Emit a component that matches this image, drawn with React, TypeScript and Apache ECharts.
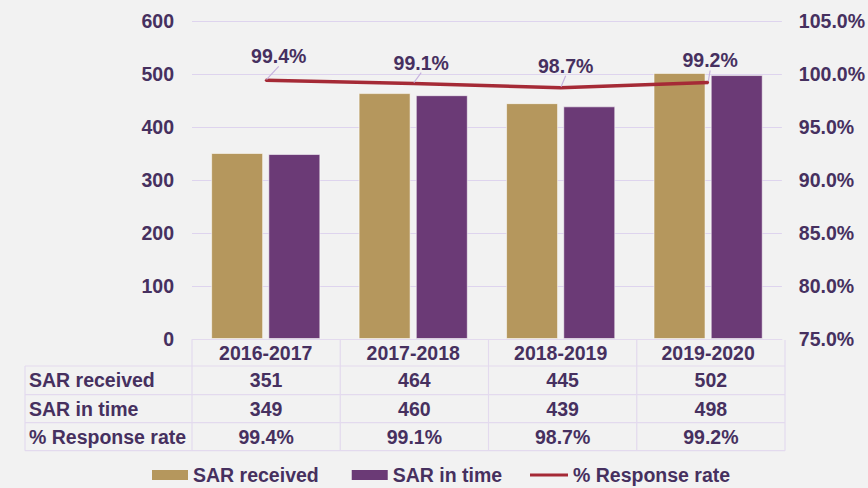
import React, { useEffect, useRef } from "react";
import * as echarts from "echarts";

const categories = ["2016-2017", "2017-2018", "2018-2019", "2019-2020"];
const sarReceived = [351, 464, 445, 502];
const sarInTime = [349, 460, 439, 498];
const responseRate = [99.4, 99.1, 98.7, 99.2];
const seriesNames = ["SAR received", "SAR in time", "% Response rate"];
const rateLabels = responseRate.map((v) => `${v.toFixed(1)}%`);

// layout constants
const W = 868;
const H = 488;
const GRID_L = 192;
const GRID_R = 785;
const GRID_T = 21;
const GRID_B = 339;
const FONT = "'Liberation Sans', Arial, sans-serif";
const FS = 19.5;
const TXT = "#46305f";
const BORDER = "#e3daee";
const GRIDLINE = "#ded4ee";
const labelOffsets = [
  [13, -24],
  [8, -21],
  [5, -22],
  [2, -22],
];

function buildTable() {
  const els: any[] = [];
  const colW = (GRID_R - GRID_L) / categories.length;
  const rowsY = [340, 366, 394.7, 422.7, 450.7];
  const tableLeft = 25;
  const line = (x1: number, y1: number, x2: number, y2: number) => ({
    type: "line",
    silent: true,
    shape: { x1, y1, x2, y2 },
    style: { stroke: BORDER, lineWidth: 1.2 },
  });
  for (let i = 1; i < rowsY.length; i++) {
    els.push(line(tableLeft, rowsY[i], GRID_R, rowsY[i]));
  }
  els.push(line(tableLeft, rowsY[1], tableLeft, rowsY[4]));
  for (let c = 0; c <= categories.length; c++) {
    const x = GRID_L + c * colW;
    els.push(line(x, rowsY[0], x, rowsY[4]));
  }
  const rows: { name: string; values: string[] }[] = [
    { name: seriesNames[0], values: sarReceived.map(String) },
    { name: seriesNames[1], values: sarInTime.map(String) },
    { name: seriesNames[2], values: rateLabels },
  ];
  const textEl = (text: string, x: number, y: number, align: string) => ({
    type: "text",
    silent: true,
    x,
    y,
    style: {
      text,
      fill: TXT,
      fontSize: FS,
      fontWeight: "bold",
      fontFamily: FONT,
      align,
      verticalAlign: "middle",
    },
  });
  rows.forEach((r, ri) => {
    const cy = (rowsY[ri + 1] + rowsY[ri + 2]) / 2;
    els.push(textEl(r.name, tableLeft + 4, cy, "left"));
    r.values.forEach((v, ci) => {
      els.push(textEl(v, GRID_L + (ci + 0.5) * colW, cy, "center"));
    });
  });
  return els;
}

export default function App() {
  const ref = useRef<HTMLDivElement>(null);
  useEffect(() => {
    if (!ref.current) return;
    const chart = echarts.init(ref.current, null, { renderer: "svg" });
    const axisLabelStyle = {
      color: TXT,
      fontSize: FS,
      fontWeight: "bold" as const,
      fontFamily: FONT,
    };
    chart.setOption({
      animation: false,
      backgroundColor: "#f2f2f2",
      textStyle: { fontFamily: FONT },
      grid: {
        left: GRID_L,
        right: W - GRID_R,
        top: GRID_T,
        bottom: H - GRID_B,
        containLabel: false,
      },
      legend: [
        {
          left: 152,
          top: 465,
          padding: 0,
          itemWidth: 36,
          itemHeight: 10,
          itemGap: 33,
          textStyle: { ...axisLabelStyle },
          itemStyle: { borderWidth: 0 },
          icon: "rect",
          data: [seriesNames[0], seriesNames[1]],
        },
        {
          left: 530,
          top: 465,
          padding: 0,
          itemWidth: 38,
          itemHeight: 3,
          textStyle: { ...axisLabelStyle },
          icon: "rect",
          data: [seriesNames[2]],
        },
      ],
      xAxis: {
        type: "category",
        data: categories,
        axisLine: { show: true, lineStyle: { color: BORDER, width: 1.2 } },
        axisTick: { show: false },
        axisLabel: { ...axisLabelStyle, margin: 14, verticalAlign: "middle" },
      },
      yAxis: [
        {
          type: "value",
          min: 0,
          max: 600,
          interval: 100,
          axisLine: { show: false },
          axisTick: { show: false },
          axisLabel: { ...axisLabelStyle, margin: 18 },
          splitLine: { show: true, lineStyle: { color: GRIDLINE, width: 1 } },
        },
        {
          type: "value",
          min: 75,
          max: 105,
          interval: 5,
          position: "right",
          axisLine: { show: false },
          axisTick: { show: false },
          axisLabel: {
            ...axisLabelStyle,
            margin: 17,
            formatter: (v: number) => `${v.toFixed(1)}%`,
          },
          splitLine: { show: false },
        },
      ],
      series: [
        {
          name: seriesNames[0],
          type: "bar",
          data: sarReceived,
          barWidth: 52,
          barGap: "10%",
          itemStyle: {
            color: "#b5975d",
            borderColor: "rgba(255,255,255,0.55)",
            borderWidth: 1,
          },
        },
        {
          name: seriesNames[1],
          type: "bar",
          data: sarInTime,
          barWidth: 52,
          barGap: "10%",
          itemStyle: {
            color: "#6b3a76",
            borderColor: "rgba(255,255,255,0.55)",
            borderWidth: 1,
          },
        },
        {
          name: seriesNames[2],
          type: "line",
          yAxisIndex: 1,
          data: responseRate,
          symbol: "circle",
          symbolSize: 2,
          lineStyle: { color: "#a52a36", width: 3.5 },
          itemStyle: { color: "#a52a36" },
          label: {
            show: true,
            position: "inside",
            formatter: (p: any) => `${p.value.toFixed(1)}%`,
            ...axisLabelStyle,
          },
          labelLayout: (p: any) => ({
            dx: labelOffsets[p.dataIndex][0],
            dy: labelOffsets[p.dataIndex][1],
          }),
          labelLine: {
            show: true,
            lineStyle: { color: "#c6b2de", width: 1.2 },
          },
          z: 5,
        },
      ],
      graphic: buildTable(),
    });
    return () => chart.dispose();
  }, []);
  return (
    <div
      ref={ref}
      style={{ position: "absolute", left: 0, top: 0, width: W, height: H }}
    />
  );
}
